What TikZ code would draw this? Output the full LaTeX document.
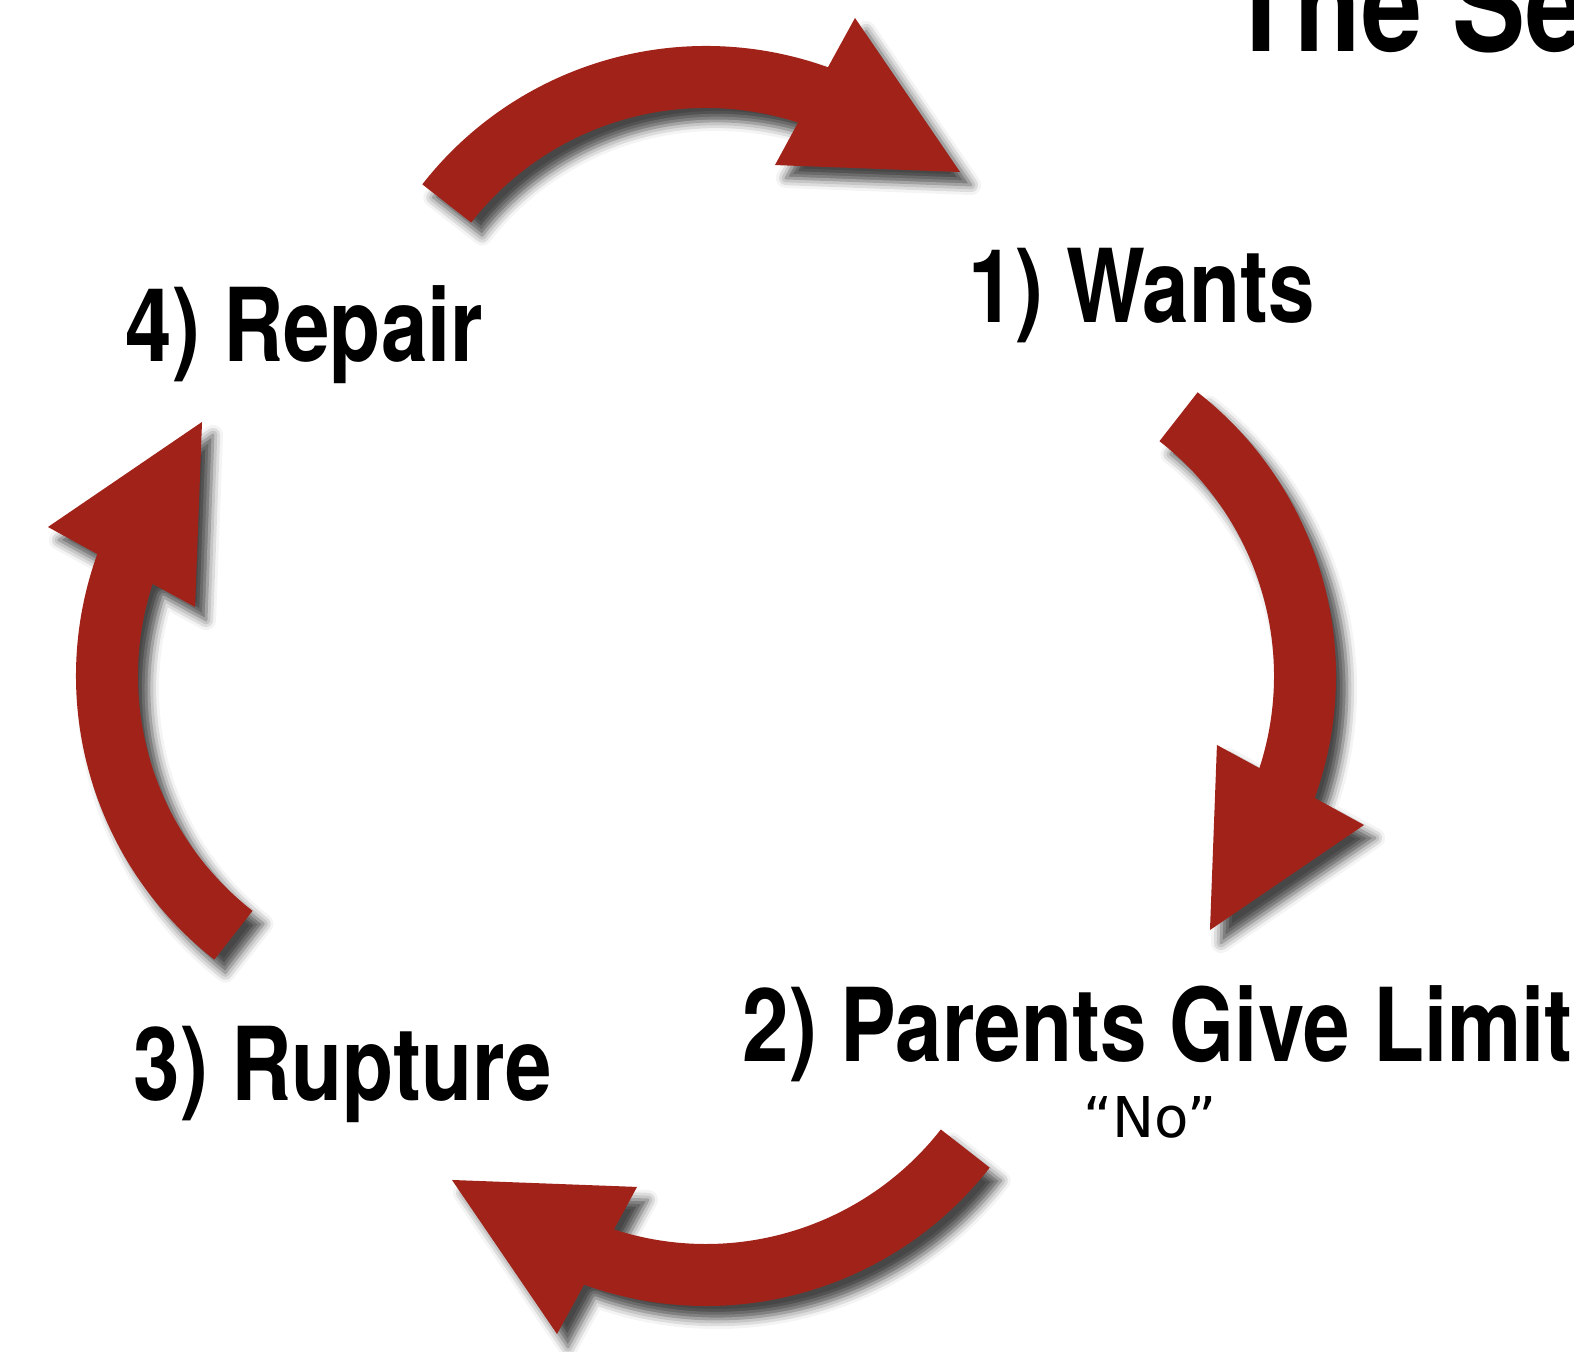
\documentclass[tikz,border=0pt]{standalone}
\usepackage{fontspec}
\usepackage{tikz}
\usetikzlibrary{shadows.blur}
\newfontfamily\labelfont[FakeStretch=0.82]{TeX Gyre Heros}
\newfontfamily\quotefont{DejaVu Sans}
\definecolor{cyclered}{RGB}{160,34,24}
\tikzset{
	cyclearrowstyle/.style={fill=cyclered, blur shadow={shadow xshift=0.11cm, shadow yshift=-0.13cm, shadow blur radius=0.1cm, shadow opacity=72}},
	steplabel/.style={font=\labelfont\bfseries\fontsize{29}{30}\selectfont, inner sep=0pt, anchor=base west},
	titlelabel/.style={font=\labelfont\bfseries\fontsize{38}{40}\selectfont, inner sep=0pt, anchor=base west},
	quotelabel/.style={font=\quotefont\fontsize{16}{18}\selectfont, inner sep=0pt, anchor=base},
}
% one curved arrow of the cycle, turned clockwise by #2 degrees about the origin
\def\cyclearrow[#1](#2){\fill[#1] ([shift={({90-#2}:2.7)}]{142-#2}:3.6) arc[start angle=142-#2, end angle=70.2-#2, radius=3.6] -- ({77.24-#2}:6.747) -- ({63.25-#2}:5.644) -- ({82.31-#2}:5.156) -- ([shift={({90-#2}:2.7)}]{72-#2}:2.98) arc[start angle=72-#2, end angle=142-#2, radius=2.98] -- cycle;}

\begin{document}
\begin{tikzpicture}
		%%%%% START %%%%%
		
		\useasboundingbox (-7.06, -6.76) rectangle (8.68, 6.76);
		\clip (-7.06, -6.76) rectangle (8.68, 6.76);
		
		\node[titlelabel] (title) at (5.21, 6.24) {The Se};
		
		\cyclearrow[cyclearrowstyle](0);
		\cyclearrow[cyclearrowstyle](90);
		\cyclearrow[cyclearrowstyle](180);
		\cyclearrow[cyclearrowstyle](270);
		
		\node[steplabel] (wants) at (2.62, 3.53) {1) Wants};
		\node[steplabel] (limit) at (0.36, -3.86) {2) Parents Give Limit};
		\node[quotelabel] (no) at (4.44, -4.61) {“No”};
		\node[steplabel] (rupture) at (-5.73, -4.24) {3) Rupture};
		\node[steplabel] (repair) at (-5.81, 3.14) {4) Repair};
		
		%%%%% END %%%%%
\end{tikzpicture}
\end{document}
